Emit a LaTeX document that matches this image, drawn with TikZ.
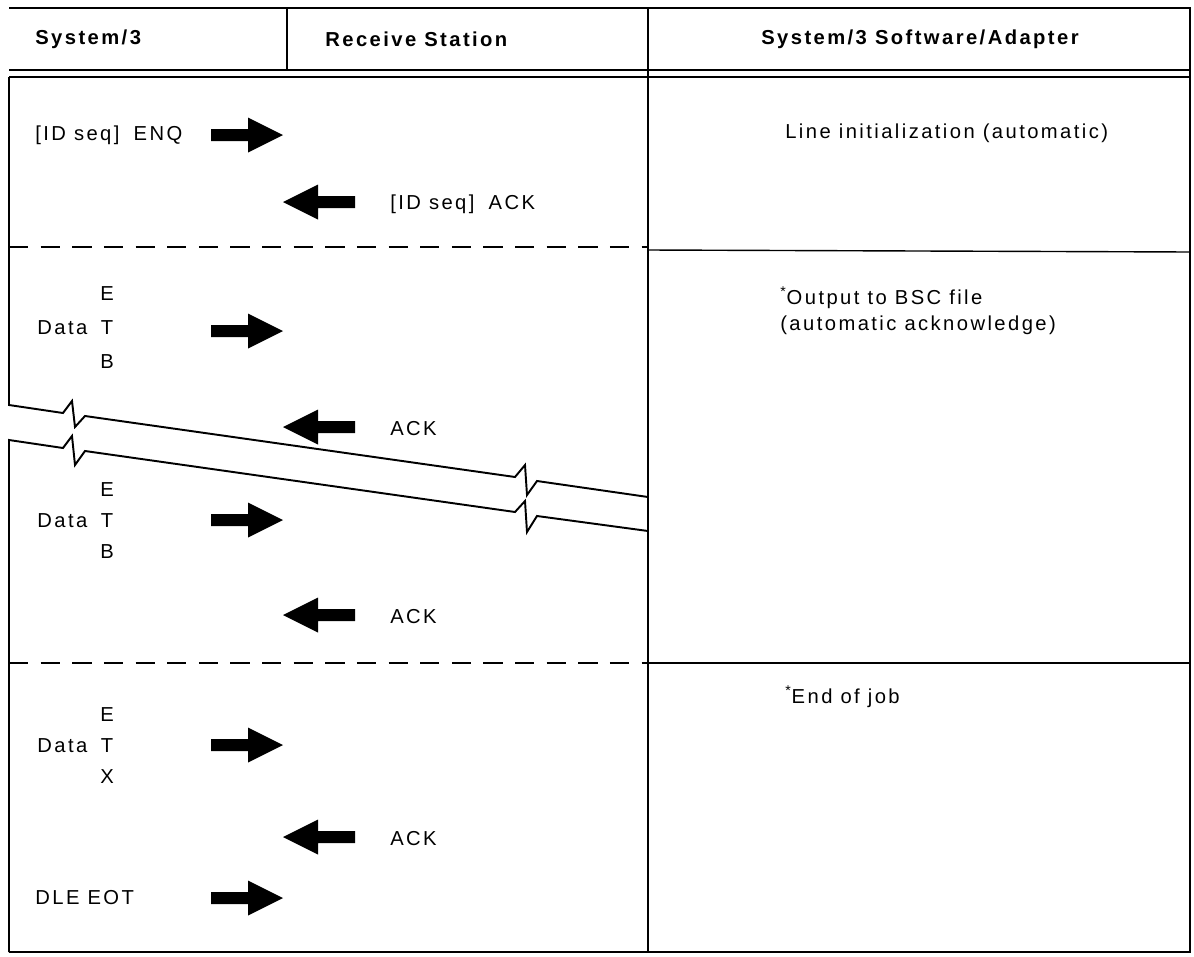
\documentclass[tikz,border=0pt]{standalone}
\usepackage{fontspec}
\setmainfont{Liberation Sans}[LetterSpace=12]
\usetikzlibrary{calc}
\def\fatright(#1,#2){\fill[shift={(#1,#2)}] (0,-6) -- (37,-6) -- (37,-17.5) -- (72,0) -- (37,17.5) -- (37,6) -- (0,6) -- cycle;}
\def\fatleft(#1,#2){\fill[shift={(#1,#2)}] (0,0) -- (35,-17.5) -- (35,-6) -- (72,-6) -- (72,6) -- (35,6) -- (35,17.5) -- cycle;}
\tikzset{
	frame/.style={line width=1.3pt},
	rule/.style={line width=0.8pt},
	brk/.style={line width=1.1pt, line join=miter},
	sep/.style={line width=0.9pt, dash pattern=on 11pt off 7pt},
	txt/.style={font=\fontsize{11.5}{14}\selectfont, inner sep=0pt, anchor=west},
	hdr/.style={font=\fontsize{11.5}{14}\selectfont\bfseries, inner sep=0pt, anchor=west},
	ltr/.style={font=\fontsize{11.5}{14}\selectfont, inner sep=0pt},
}

\begin{document}
\begin{tikzpicture}[x=0.02cm, y=-0.02cm]
		%%%%% START %%%%%
		\useasboundingbox (0,0) rectangle (1194,957);
		
		% frame and header
		\draw[frame] (9,8) -- (1190,8) -- (1190,952) -- (9,952);
		\draw[frame] (648,8) -- (648,952);
		\draw[frame] (287,8) -- (287,70);
		\draw[rule] (9,70) -- (1190,70);
		\draw[frame] (9,77) -- (1190,77);
		\draw[rule] (648,250) -- (1190,252);
		\draw[rule] (648,663) -- (1190,663);
		
		\node[hdr] (hsys) at (35,39) {System/3};
		\node[hdr] (hrecv) at (325,39) {Receive Station};
		\node[hdr, anchor=center] (hsoft) at (920,39) {System/3 Software/Adapter};
		
		% left panel with the break
		\draw[brk] (9,77) -- (9,405) -- (63,413) -- (72,401) -- (75,427) -- (85,416) -- (515,477) -- (525,465) -- (527,495) -- (537,481) -- (648,497);
		\draw[brk] (648,531) -- (537,516) -- (527,532) -- (525,501) -- (515,512) -- (85,451) -- (75,465) -- (72,436) -- (63,448) -- (9,440) -- (9,952);
		
		\draw[sep] (9,247) -- (648,247);
		\draw[sep] (9,663) -- (648,663);
		
		% line initialization
		\node[txt] (enq) at (35,135) {[ID seq]\hspace{0.7em}ENQ};
		\fatright(211,135)
		\fatleft(283,202)
		\node[txt] (idack) at (390,204) {[ID seq]\hspace{0.7em}ACK};
		
		% first block
		\node[ltr] (e1) at (107,294) {E};
		\node[txt] (data1) at (37,328) {Data};
		\node[ltr] (t1) at (107,328) {T};
		\node[ltr] (b1) at (107,362) {B};
		\fatright(211,331)
		\fatleft(283,427)
		\node[txt] (ack1) at (390,429) {ACK};
		
		% second block
		\node[ltr] (e2) at (107,490) {E};
		\node[txt] (data2) at (37,521) {Data};
		\node[ltr] (t2) at (107,521) {T};
		\node[ltr] (b2) at (107,552) {B};
		\fatright(211,520)
		\fatleft(283,615)
		\node[txt] (ack2) at (390,617) {ACK};
		
		% last block
		\node[ltr] (e3) at (107,715) {E};
		\node[txt] (data3) at (37,746) {Data};
		\node[ltr] (t3) at (107,746) {T};
		\node[ltr] (x3) at (107,777) {X};
		\fatright(211,745)
		\fatleft(283,837)
		\node[txt] (ack3) at (390,839) {ACK};
		\node[txt] (dle) at (35,898) {DLE EOT};
		\fatright(211,898)
		
		% right column
		\node[txt] (init) at (785,133) {Line initialization (automatic)};
		\node[txt] (bsc) at (780,298) {\textsuperscript{*}Output to BSC file};
		\node[txt] (auto) at (780,325) {(automatic acknowledge)};
		\node[txt] (eoj) at (785,697) {\textsuperscript{*}End of job};
		
		%%%%% END %%%%%
\end{tikzpicture}
\end{document}
